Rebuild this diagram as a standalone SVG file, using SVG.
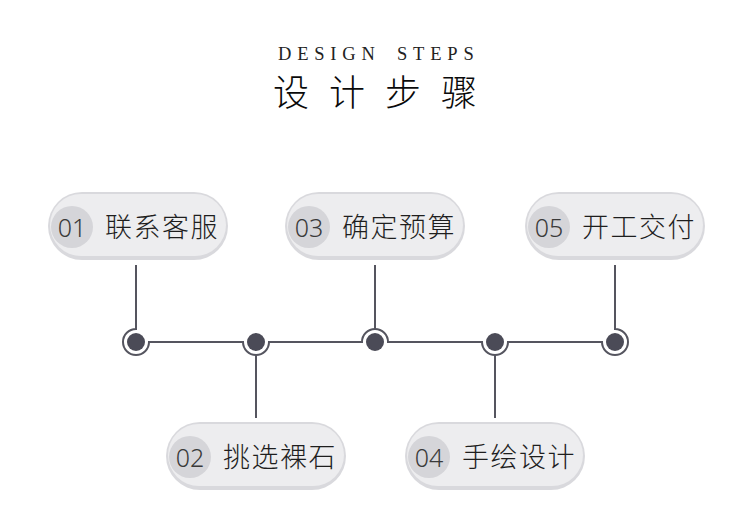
<svg xmlns="http://www.w3.org/2000/svg" width="750" height="524" viewBox="0 0 750 524">
<style>
.pill-o{fill:#d9d9dd}
.pill-i{fill:#ededef}
.num-c{fill:#d5d5d9}
.num{font-family:"Noto Sans","Noto Sans CJK SC",sans-serif;font-weight:300;font-size:25px;fill:#3a3a3a;text-anchor:middle}
.lbl{font-family:"Noto Sans CJK SC","Noto Sans",sans-serif;font-weight:300;font-size:27px;fill:#1e1e1e;letter-spacing:1.5px}
.line{fill:none;stroke:#55555f;stroke-width:2}
.dot{fill:#4b4b57}
</style>
<rect width="750" height="524" fill="#ffffff"/>
<g id="title">
<text font-family="'Liberation Serif',serif" font-size="18.5" fill="#222" letter-spacing="5.8"><tspan x="278" y="60">DESIGN</tspan><tspan x="397" y="60">STEPS</tspan></text>
<text x="273" y="106" font-family="'Noto Sans CJK SC',sans-serif" font-weight="300" font-size="36" fill="#0a0a0a" letter-spacing="20">设计步骤</text>
</g>
<g id="connectors">
<path class="line" d="M136,265 V329 A13,13 0 1 0 149,342 H243 A13,13 0 0 0 269,342 H362 A13,13 0 0 1 388,342 H482 A13,13 0 0 0 508,342 H602 A13,13 0 1 0 615,329 V265"/>
<path class="line" d="M256,355 V418 M495,355 V418 M375,329 V265"/>
<circle class="dot" cx="136" cy="342" r="9"/>
<circle class="dot" cx="256" cy="342" r="9"/>
<circle class="dot" cx="375" cy="342" r="9"/>
<circle class="dot" cx="495" cy="342" r="9"/>
<circle class="dot" cx="615" cy="342" r="9"/>
</g>
<g id="node1">
<rect class="pill-o" x="48" y="192" width="180" height="68" rx="34"/>
<rect class="pill-i" x="50" y="194" width="176" height="62" rx="31"/>
<circle class="num-c" cx="72" cy="227" r="21"/>
<text class="num" x="72" y="237">01</text>
<text class="lbl" x="105" y="237">联系客服</text>
</g>
<g id="node3">
<rect class="pill-o" x="285" y="192" width="180" height="68" rx="34"/>
<rect class="pill-i" x="287" y="194" width="176" height="62" rx="31"/>
<circle class="num-c" cx="309" cy="227" r="21"/>
<text class="num" x="309" y="237">03</text>
<text class="lbl" x="342" y="237">确定预算</text>
</g>
<g id="node5">
<rect class="pill-o" x="525" y="192" width="180" height="68" rx="34"/>
<rect class="pill-i" x="527" y="194" width="176" height="62" rx="31"/>
<circle class="num-c" cx="549" cy="227" r="21"/>
<text class="num" x="549" y="237">05</text>
<text class="lbl" x="582" y="237">开工交付</text>
</g>
<g id="node2">
<rect class="pill-o" x="166" y="422" width="180" height="68" rx="34"/>
<rect class="pill-i" x="168" y="424" width="176" height="62" rx="31"/>
<circle class="num-c" cx="190" cy="457" r="21"/>
<text class="num" x="190" y="467">02</text>
<text class="lbl" x="223" y="467">挑选裸石</text>
</g>
<g id="node4">
<rect class="pill-o" x="405" y="422" width="180" height="68" rx="34"/>
<rect class="pill-i" x="407" y="424" width="176" height="62" rx="31"/>
<circle class="num-c" cx="429" cy="457" r="21"/>
<text class="num" x="429" y="467">04</text>
<text class="lbl" x="462" y="467">手绘设计</text>
</g>
</svg>
